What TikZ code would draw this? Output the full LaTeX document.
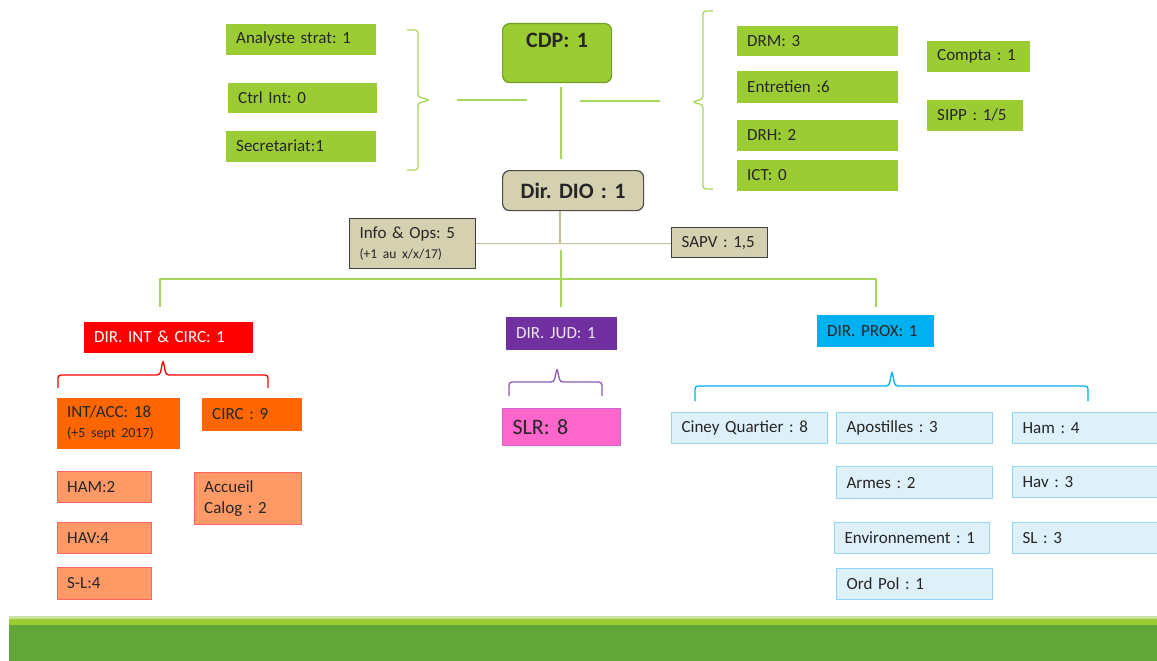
\documentclass[tikz,border=0pt]{standalone}
\usepackage{fontspec}
\setmainfont{Carlito}

\definecolor{leaf}{RGB}{155,204,52}
\definecolor{leafdark}{RGB}{112,160,40}
\definecolor{leafline}{RGB}{166,214,90}
\definecolor{grass}{RGB}{98,165,56}
\definecolor{grasslight}{RGB}{200,226,160}
\definecolor{sand}{RGB}{213,208,176}
\definecolor{sandline}{RGB}{196,189,151}
\definecolor{orng}{RGB}{255,102,0}
\definecolor{salmon}{RGB}{255,153,102}
\definecolor{salmonline}{RGB}{255,100,100}
\definecolor{purp}{RGB}{112,48,160}
\definecolor{pink}{RGB}{255,102,204}
\definecolor{pinkline}{RGB}{204,102,204}
\definecolor{sky}{RGB}{0,176,240}
\definecolor{ice}{RGB}{222,240,250}
\definecolor{iceline}{RGB}{150,212,245}
\definecolor{ink}{RGB}{38,38,38}

\begin{document}
\frenchspacing
\begin{tikzpicture}[x=1pt, y=-1pt,
    every node/.style={anchor=north west, inner xsep=10pt, inner ysep=0pt, align=left, text=ink, font=\fontsize{17}{20}\selectfont},
    leafbox/.style={fill=leaf, draw=leaf},
    headbox/.style={rounded corners=7pt, line width=1.2pt, align=center, font=\fontsize{22}{24}\selectfont\bfseries},
    sandbox/.style={fill=sand, draw=black!75, line width=1.2pt},
    redbox/.style={fill=red, draw=red, text=white},
    orangebox/.style={fill=orng, draw=orng},
    salmonbox/.style={fill=salmon, draw=salmonline},
    purplebox/.style={fill=purp, draw=purp, text=white!88!purp},
    pinkbox/.style={fill=pink, draw=pinkline, line width=1pt},
    skybox/.style={fill=sky, draw=sky},
    icebox/.style={fill=ice, draw=iceline, line width=1.2pt},
    greenline/.style={draw=leafline, line width=1.3pt},
    tanline/.style={draw=sandline, line width=1.3pt},
    brace/.style={line width=1.3pt, rounded corners=3pt}]

    \clip (0,0) rectangle (1157,661);

    % Nodes
    \node[leafbox, text width=129pt, minimum height=30pt] (analyste) at (226,24) {Analyste strat: 1};
    \node[leafbox, text width=128pt, minimum height=29pt] (ctrlint) at (228,83) {Ctrl Int: 0};
    \node[leafbox, text width=129pt, minimum height=30pt] (secret) at (226,131) {Secretariat:1};

    \node[leafbox, headbox, draw=leafdark, text width=89pt, text height=24pt, text depth=35pt] (cdp) at (502,23) {CDP: 1};

    \node[leafbox, text width=140pt, minimum height=29pt] (drm) at (737,26) {DRM: 3};
    \node[leafbox, text width=140pt, minimum height=31pt] (entretien) at (737,71) {Entretien :6};
    \node[leafbox, text width=140pt, minimum height=30pt] (drh) at (737,120) {DRH: 2};
    \node[leafbox, text width=140pt, minimum height=30pt] (ict) at (737,160) {ICT: 0};
    \node[leafbox, text width=82pt, minimum height=30pt] (compta) at (927,41) {Compta : 1};
    \node[leafbox, text width=75pt, minimum height=30pt] (sipp) at (927,100) {SIPP : 1/5};

    \node[sandbox, headbox, draw=black!70, text width=121pt, minimum height=40pt] (dio) at (502,170) {Dir. DIO : 1};
    \node[sandbox, text width=106pt, minimum height=50pt] (info) at (349,218) {Info \& Ops: 5\\{\fontsize{13.5}{15}\selectfont (+1 au x/x/17)}};
    \node[sandbox, text width=76pt, minimum height=30pt] (sapv) at (671,227) {SAPV : 1,5};

    \node[redbox, text width=148pt, minimum height=30pt] (dirint) at (84,322) {DIR. INT \& CIRC: 1};
    \node[orangebox, text width=102pt, minimum height=50pt] (intacc) at (57,398) {INT/ACC: 18\\{\fontsize{14}{16}\selectfont (+5 sept 2017)}};
    \node[orangebox, text width=79pt, minimum height=32pt] (circ) at (202,398) {CIRC : 9};
    \node[salmonbox, text width=74pt, minimum height=31pt] (hamint) at (57,471) {HAM:2};
    \node[salmonbox, text width=74pt, minimum height=31pt] (havint) at (57,522) {HAV:4};
    \node[salmonbox, text width=74pt, minimum height=32pt] (slint) at (57,567) {S-L:4};
    \node[salmonbox, text width=87pt, minimum height=52pt, font=\fontsize{17}{21}\selectfont] (accueil) at (194,472) {Accueil\\Calog : 2};

    \node[purplebox, text width=90pt, minimum height=32pt] (dirjud) at (506,317) {DIR. JUD: 1};
    \node[pinkbox, text width=98pt, minimum height=37pt, font=\fontsize{22}{24}\selectfont] (slr) at (502,408) {SLR: 8};

    \node[skybox, text width=96pt, minimum height=31pt] (dirprox) at (817,315) {DIR. PROX: 1};
    \node[icebox, text width=136pt, minimum height=31pt] (ciney) at (671,412) {Ciney Quartier : 8};
    \node[icebox, text width=136pt, minimum height=31pt] (apost) at (836,412) {Apostilles : 3};
    \node[icebox, text width=140pt, minimum height=31pt] (hamprox) at (1012,412) {Ham : 4};
    \node[icebox, text width=136pt, minimum height=32pt] (armes) at (836,466) {Armes : 2};
    \node[icebox, text width=140pt, minimum height=31pt] (havprox) at (1012,466) {Hav : 3};
    \node[icebox, text width=135pt, minimum height=31pt] (environ) at (834,522) {Environnement : 1};
    \node[icebox, text width=140pt, minimum height=31pt] (slprox) at (1012,522) {SL : 3};
    \node[icebox, text width=136pt, minimum height=31pt] (ordpol) at (836,568) {Ord Pol : 1};

    \coordinate (lstub) at (457,100);
    \coordinate (rstub) at (580,101);
    \coordinate (stem) at (561,87);
    \coordinate (jct) at (560,243);
    \coordinate (trunk) at (561,250);
    \coordinate (barl) at (160,307);
    \coordinate (barr) at (876,307);

    % Braces
    \draw[brace, leafline] (407,30) -- (418,30) -- (418,97) -- (430,100) -- (418,103) -- (418,170) -- (407,170);
    \draw[brace, leafline] (713,11) -- (703,11) -- (703,99) -- (692,102) -- (703,105) -- (703,189) -- (713,189);
    \draw[brace, red] (58,388) -- (58,375) -- (160,375) -- (163,360) -- (166,375) -- (268,375) -- (268,388);
    \draw[brace, purp!80] (509,396) -- (509,382) -- (554,382) -- (557,368) -- (560,382) -- (602,382) -- (602,396);
    \draw[brace, sky] (695,401) -- (695,386) -- (889,386) -- (892,371) -- (895,386) -- (1088,386) -- (1088,401);

    % Edges
    \draw[greenline] (lstub) -- ++(70,0);
    \draw[greenline] (rstub) -- ++(80,0);
    \draw[greenline] (stem) -- ([yshift=11pt]dio.north -| stem);
    \draw[tanline] (jct |- dio.south) -- (jct);
    \draw[tanline] (info.east) -- (info.east -| sapv.west);
    \draw[greenline] (trunk) -- ([yshift=10pt]dirjud.north -| trunk);
    \draw[greenline] (barl) -- (barl |- 0,279) -- (barr |- 0,279) -- (barr);

    % Band
    \fill[grasslight] (9,616) rectangle (1157,619);
    \fill[leaf] (9,618.5) rectangle (1157,624.5);
    \fill[grass] (9,624.5) rectangle (1157,661);

\end{tikzpicture}
\end{document}
